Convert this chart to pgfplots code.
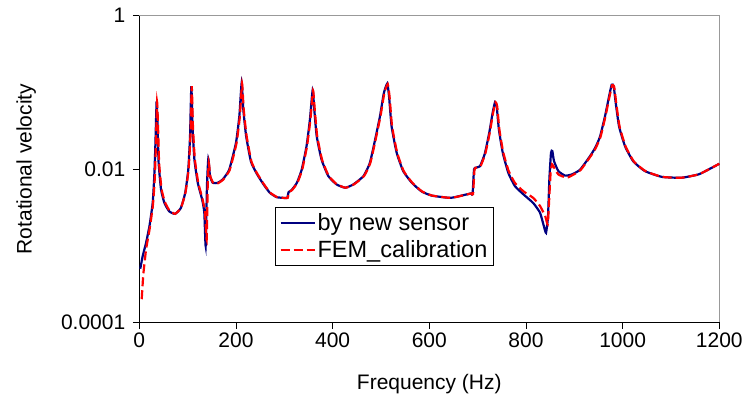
\documentclass[border=0pt]{standalone}
\usepackage{pgfplots}
\pgfplotsset{compat=1.18}
\usepackage{fontspec}
\setmainfont{Liberation Sans}
\definecolor{navyb}{RGB}{0,0,128}
\definecolor{redf}{RGB}{255,0,0}
\begin{document}
\begin{tikzpicture}[font=\fontsize{21bp}{25bp}\selectfont]
\useasboundingbox (-139.3bp,-75.7bp) rectangle (604.7bp,322.3bp);
\begin{axis}[
  at={(0,0)}, anchor=south west,
  scale only axis, width=580bp, height=306.6bp,
  xmin=0, xmax=1200, ymode=log, ymin=1e-4, ymax=1,
  axis lines=left, axis line style={-, black, line width=0.8bp},
  tick align=outside, major tick length=6.5bp,
  tick style={black, line width=0.8bp},
  xtick={0,200,400,600,800,1000,1200},
  xticklabels={0,200,400,600,800,1000,1200},
  ytick={1e-4,1e-2,1}, yticklabels={0.0001,0.01,1},
  yminorticks=false, minor y tick num=0,
  xticklabel style={yshift=-1bp},
  yticklabel style={xshift=-4bp},
  xlabel={Frequency (Hz)}, ylabel={Rotational velocity},
  xlabel style={at={(axis description cs:0.5,-0.203)}, anchor=center},
  ylabel style={at={(axis description cs:-0.195,0.5)}, anchor=center},
  clip=false,
  legend style={at={(0.234,0.376)}, anchor=north west, draw=black, line width=0.8bp,
    inner xsep=4bp, inner ysep=4bp, row sep=5bp, font=\fontsize{23.5bp}{27bp}\selectfont},
  legend cell align=left,
  legend image code/.code={\draw[#1] (0bp,0bp) -- (34bp,0bp);},
]
\draw[gray!80, line width=0.8bp] (rel axis cs:0,1) -- (rel axis cs:1,1) -- (rel axis cs:1,0);
\addplot[navyb, line width=2.2bp, smooth, tension=0.3] coordinates {
(2,5.0e-4)(7,7.3e-4)(14,1.09e-3)(21,1.8e-3)(27.7,3.6e-3)(31,8.1e-3)(33.2,0.0199)(35.9,0.0766)
(38,0.0327)(40,0.012)(45,0.0054)(52,0.0036)(62,0.0028)(74,0.0026)(86,0.0031)(95,0.0049)
(101.4,0.0099)(105,0.027)(107.7,0.12)(110.4,0.033)(114,0.0133)(121,0.0066)(130,0.0040)
(134.5,0.0027)(137.3,0.00099)(140,0.006)(142.8,0.0136)(146.3,0.0081)(152,0.0066)(162,0.0066)
(172.5,0.0073)(186,0.0098)(200,0.0219)(207,0.049)(211.8,0.133)(215.2,0.060)(221,0.027)
(231,0.0125)(243,0.0087)(257,0.0063)(270,0.0049)(284,0.0043)(298,0.0042)(306,0.0042)
(309,0.0050)(315,0.0053)(326,0.0066)(336,0.0098)(346,0.0199)(353,0.044)(358.7,0.107)
(362,0.060)(367,0.027)(377,0.0133)(391,0.0081)(408,0.0063)(426,0.0057)(443,0.0063)
(464,0.0081)(477,0.012)(488,0.0243)(498,0.049)(506,0.098)(513,0.130)(516.7,0.089)
(522,0.036)(532.5,0.0163)(546,0.0094)(564,0.0066)(584,0.0051)(605,0.0045)(643,0.0042)
(667,0.0045)(686,0.0048)(689.5,0.0047)(692.5,0.0098)(696,0.0104)(705,0.0109)(715,0.016)
(724,0.0296)(731,0.054)(736,0.0743)(739.4,0.066)(744,0.0327)(752,0.0163)(763.5,0.0089)
(777,0.0060)(795,0.00465)(815,0.0036)(829,0.0027)(837,0.0018)(841.5,0.00147)(845.6,0.0024)
(848.4,0.0073)(851.8,0.0163)(854.6,0.0171)(858,0.0127)(867,0.0094)(881,0.0082)(895,0.0085)
(912,0.0098)(932.5,0.0147)(943,0.0188)(953,0.0262)(963.6,0.049)(972,0.089)(977.4,0.126)
(981.5,0.120)(985.7,0.073)(992.6,0.036)(1005,0.0198)(1022,0.0126)(1046,0.0094)(1081,0.0079)
(1122,0.0077)(1157,0.0085)(1177,0.0098)(1200,0.0117)
};
\addlegendentry{by new sensor}
\addplot[redf, line width=2.2bp, dash pattern=on 9bp off 4bp, smooth, tension=0.3] coordinates {
(5,2.0e-4)(8.3,4.2e-4)(14,8.9e-4)(21,1.6e-3)(28,3.3e-3)(32,7.5e-3)(34.2,0.019)(36.8,0.075)
(39,0.032)(41,0.012)(46,0.0055)(53,0.0037)(62,0.0029)(74,0.0026)(86,0.0031)(95.5,0.0049)
(102,0.0099)(105.8,0.027)(108.5,0.12)(111.2,0.033)(115,0.0133)(122,0.0066)(131,0.0040)
(136,0.0027)(139.4,0.0012)(141.5,0.0060)(143.8,0.0120)(147,0.0080)(153,0.0066)(162,0.0065)
(173,0.0072)(187,0.0097)(201,0.0215)(208,0.048)(212.6,0.130)(216,0.060)(222,0.027)
(232,0.0125)(244,0.0087)(258,0.0063)(271,0.0049)(285,0.0043)(299,0.0042)(307,0.0042)
(310,0.0050)(316,0.0053)(327,0.0066)(337,0.0098)(347,0.0199)(354,0.044)(359.5,0.105)
(363,0.060)(368,0.027)(378,0.0133)(392,0.0081)(409,0.0063)(427,0.0057)(444,0.0063)
(465,0.0081)(478,0.012)(489,0.0243)(499,0.049)(507,0.098)(514,0.128)(517.7,0.089)
(523,0.036)(533.5,0.0163)(547,0.0094)(565,0.0066)(585,0.0051)(606,0.0045)(644,0.0042)
(668,0.0045)(687,0.0048)(690.5,0.0047)(693.5,0.0098)(697,0.0104)(706,0.0109)(716,0.016)
(725,0.0296)(732,0.054)(737,0.0743)(740.4,0.066)(745,0.0327)(753,0.0165)(764,0.0095)
(777,0.0066)(795,0.0051)(815,0.0042)(829,0.0033)(840,0.0024)(845,0.0019)(848,0.004)
(851,0.009)(854,0.0115)(858,0.0105)(867,0.0085)(884,0.0077)(896,0.0083)(913,0.0097)
(933.5,0.0146)(944,0.0186)(954,0.026)(964.6,0.049)(973,0.089)(978.4,0.124)(982.5,0.118)
(986.7,0.073)(993.6,0.036)(1006,0.0198)(1023,0.0126)(1047,0.0094)(1082,0.0079)
(1122,0.0077)(1157,0.0085)(1177,0.0098)(1200,0.0117)
};
\addlegendentry{FEM\_calibration}
\end{axis}
\end{tikzpicture}
\end{document}
